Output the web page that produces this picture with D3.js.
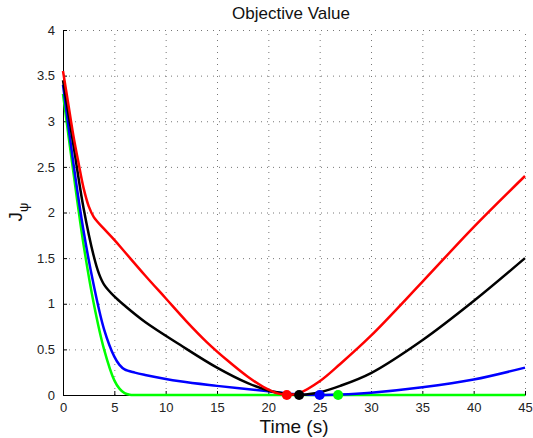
<!DOCTYPE html>
<html>
<head>
<meta charset="utf-8">
<script src="https://cdnjs.cloudflare.com/ajax/libs/d3/7.8.5/d3.min.js"></script>
<style>
body { margin: 0; background: #fff; }
svg { font-family: "Liberation Sans", Arial, sans-serif; }
.grid line { stroke: #777; stroke-dasharray: 1,5; }
</style>
</head>
<body>
<svg id="chart" width="533" height="438"></svg>
<script>
// values
var redT   = [0, 0.5, 1, 1.5, 2, 2.5, 3, 4, 5, 6, 8, 10, 12, 14, 16, 18, 19.5, 21, 22, 23, 25, 27, 30, 35, 40, 45];
var redV   = [3.55, 3.2, 2.85, 2.55, 2.27, 2.07, 1.95, 1.82, 1.7, 1.57, 1.31, 1.06, 0.81, 0.58, 0.38, 0.2, 0.09, 0.015, 0, 0.02, 0.15, 0.34, 0.65, 1.24, 1.84, 2.4];
var blackT = [0, 1, 2, 3, 3.5, 4, 5, 6, 8, 11.4, 15, 18, 20, 22, 23, 24, 25, 27, 30, 35, 40, 45];
var blackV = [3.45, 2.75, 2.05, 1.52, 1.33, 1.21, 1.08, 0.98, 0.8, 0.55, 0.3, 0.13, 0.05, 0.01, 0, 0.01, 0.03, 0.1, 0.24, 0.6, 1.03, 1.5];
var blueT  = [0, 1, 2, 3, 4, 5, 5.5, 6, 7, 8, 11.4, 15, 20, 22, 25, 27, 30, 35, 40, 45];
var blueV  = [3.4, 2.55, 1.8, 1.2, 0.72, 0.42, 0.33, 0.28, 0.245, 0.22, 0.15, 0.1, 0.04, 0.015, 0, 0.005, 0.025, 0.085, 0.17, 0.3];
var greenT = [0, 1, 2, 3, 4, 5, 5.5, 6, 6.5, 7, 10, 20, 30, 45];
var greenV = [3.3, 2.45, 1.65, 1.0, 0.5, 0.16, 0.07, 0.02, 0.003, 0, 0, 0, 0, 0];
var minT   = [21.8, 23, 25, 26.8];
var minC   = ["#ff0000", "#000000", "#0000ff", "#00ff00"];
var xTicks = [0, 5, 10, 15, 20, 25, 30, 35, 40, 45];
var yTicks = [0, 0.5, 1, 1.5, 2, 2.5, 3, 3.5, 4];

var svg = d3.select("#chart");
var x = d3.scaleLinear().domain([0, 45]).range([63, 525]);
var y = d3.scaleLinear().domain([0, 4]).range([395, 30]);

// grid
var grid = svg.append("g").attr("class", "grid");
grid.selectAll(".gx").data(xTicks.slice(1)).enter().append("line")
  .attr("x1", d => x(d) + 0.5).attr("x2", d => x(d) + 0.5).attr("y1", y(0)).attr("y2", y(4));
grid.selectAll(".gy").data(yTicks.slice(1)).enter().append("line")
  .attr("x1", x(0)).attr("x2", x(45)).attr("y1", d => y(d) + 0.5).attr("y2", d => y(d) + 0.5);

// axes (ticks pointing inward)
var fmt = d3.format("~g");
var xAxis = d3.axisBottom(x).tickValues(xTicks).tickFormat(fmt).tickSizeInner(-4).tickSizeOuter(0).tickPadding(8);
var yAxis = d3.axisLeft(y).tickValues(yTicks).tickFormat(fmt).tickSizeInner(-4).tickSizeOuter(0).tickPadding(8);
var gx = svg.append("g").attr("transform", "translate(0," + y(0) + ")").call(xAxis);
var gy = svg.append("g").attr("transform", "translate(" + x(0) + ",0)").call(yAxis);
[gx, gy].forEach(function(g) {
  g.selectAll("text").attr("font-size", 13).attr("fill", "#222").attr("font-family", "Liberation Sans, Arial, sans-serif");
  g.select(".domain").attr("stroke", "#000");
});

var line = d3.line().x(d => x(d[0])).y(d => y(d[1])).curve(d3.curveCatmullRom.alpha(0.5));
var series = [
  [greenT, greenV, "#00ff00"],
  [blueT, blueV, "#0000ff"],
  [blackT, blackV, "#000000"],
  [redT, redV, "#ff0000"]
];
series.forEach(function(s) {
  svg.append("path")
    .datum(s[0].map((t, i) => [t, s[1][i]]))
    .attr("d", line)
    .attr("fill", "none")
    .attr("stroke", s[2])
    .attr("stroke-width", 2.5);
});

svg.selectAll(".min").data(minT).enter().append("circle")
  .attr("cx", d => x(d)).attr("cy", y(0)).attr("r", 5)
  .attr("fill", (d, i) => minC[i]);

svg.append("text").attr("x", 291).attr("y", 19).attr("text-anchor", "middle")
  .attr("font-size", 17).attr("fill", "#111").text("Objective Value");
svg.append("text").attr("x", 294).attr("y", 433).attr("text-anchor", "middle")
  .attr("font-size", 19).attr("fill", "#111").text("Time (s)");
var yl = svg.append("text").attr("transform", "translate(22,212) rotate(-90)")
  .attr("text-anchor", "middle").attr("font-size", 19).attr("fill", "#111");
yl.append("tspan").text("J");
yl.append("tspan").attr("font-size", 13).attr("dy", 6).text("ψ");
</script>
</body>
</html>
